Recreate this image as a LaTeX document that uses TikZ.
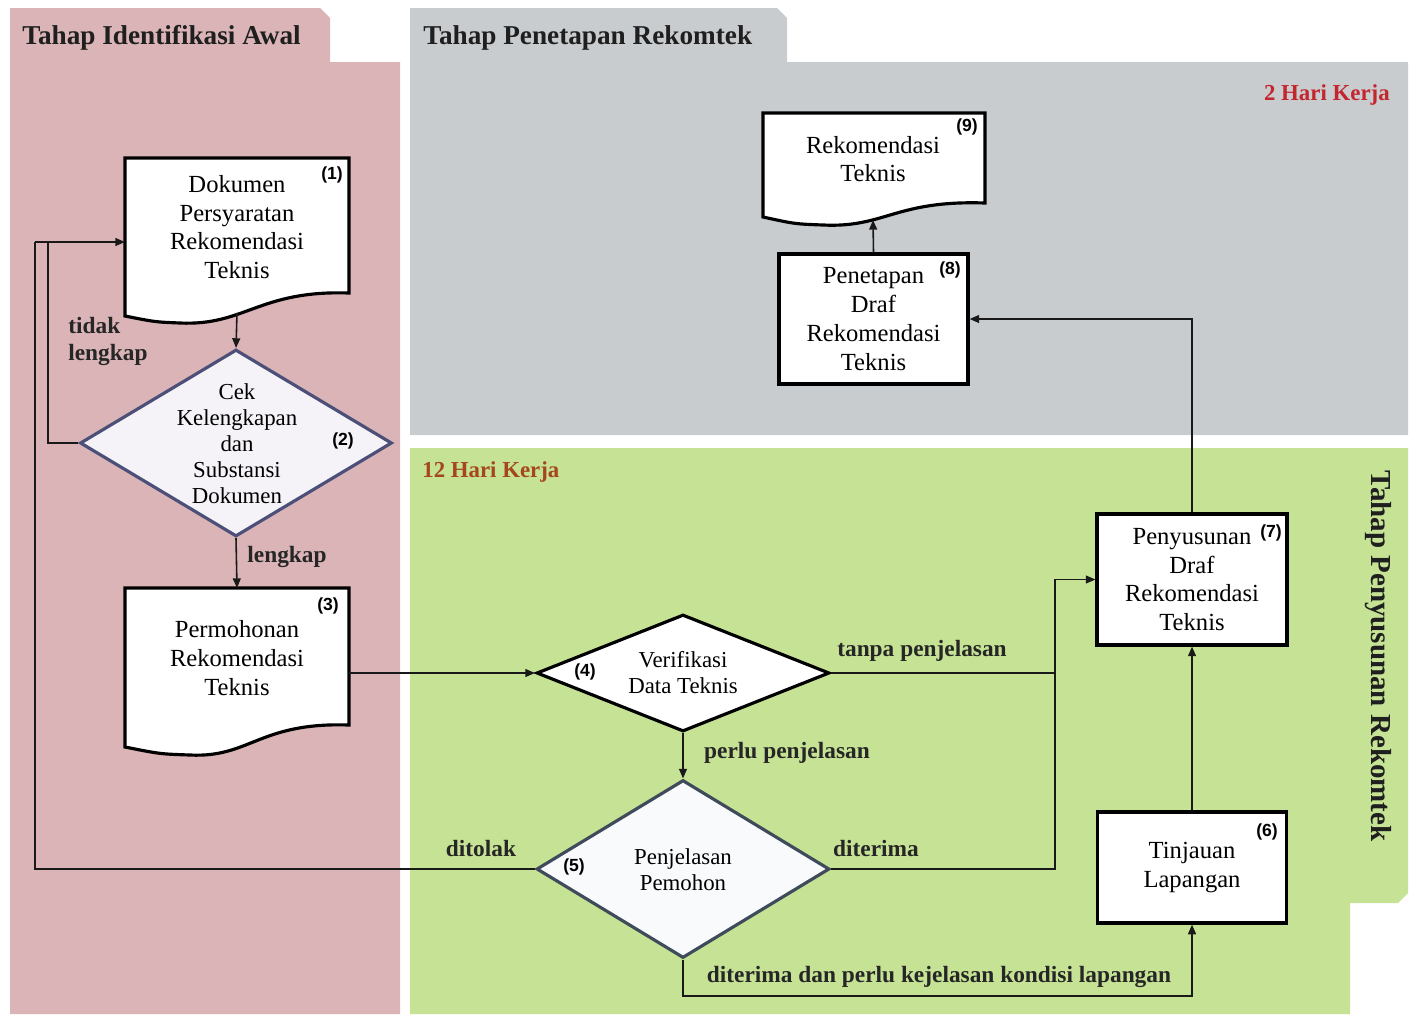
\documentclass[tikz,border=0pt]{standalone}
\usepackage{fontspec}
\setmainfont{Liberation Serif}
\newfontfamily\numfont{Liberation Sans}
\usetikzlibrary{shapes.geometric,arrows.meta,calc}
\definecolor{pinkbg}{HTML}{DAB4B7}
\definecolor{graybg}{HTML}{C9CCCF}
\definecolor{greenbg}{HTML}{C6E395}
\definecolor{dtwofill}{HTML}{F5F3F8}
\definecolor{dtwoline}{HTML}{4C5079}
\definecolor{dfivefill}{HTML}{F8FAFC}
\definecolor{dfiveline}{HTML}{3F4B5B}
\definecolor{redtxt}{HTML}{C4262E}
\definecolor{browntxt}{HTML}{A5461C}
\tikzset{
  ttl/.style={font=\fontsize{15.5}{18}\selectfont\bfseries, text=black!88, inner sep=0},
  lbl/.style={font=\fontsize{13.3}{15}\selectfont\bfseries, text=black!85, inner sep=0},
  ntext/.style={font=\fontsize{14}{16.4}\selectfont, align=center, inner sep=0},
  dtext/.style={font=\fontsize{13}{14.8}\selectfont, align=center, inner sep=0},
  num/.style={font=\numfont\bfseries\fontsize{10}{12}\selectfont, inner sep=0},
  boxn/.style={draw=black, line width=1.8pt, fill=white, inner sep=0, align=center,
               font=\fontsize{14}{16.4}\selectfont},
  docline/.style={draw=black, line width=1.8pt, fill=white},
  diam/.style={shape=diamond, inner sep=0, line width=1.8pt},
  conn/.style={line width=0.9pt, draw=black!90},
  arr/.style={conn, -{Triangle[length=5.5pt,width=4.5pt]}},
}
\begin{document}
\begin{tikzpicture}[x=0.02cm,y=-0.02cm]
\useasboundingbox (0,0) rectangle (1415,1014);
% panels
\fill[pinkbg] (10,1014) -- (10,8) -- (320,8) -- (330,18) -- (330,62) -- (400,62) -- (400,1014) -- cycle;
\fill[graybg] (410,435) -- (410,8) -- (777,8) -- (787,18) -- (787,62) -- (1408,62) -- (1408,435) -- cycle;
\fill[greenbg] (410,1014) -- (410,448) -- (1408,448) -- (1408,893) -- (1398,903) -- (1350,903) -- (1350,1014) -- cycle;
% titles
\node[ttl, anchor=west] (t1) at (22,38) {Tahap Identifikasi Awal};
\node[ttl, anchor=west] (t2) at (423,38) {Tahap Penetapan Rekomtek};
\node[ttl, rotate=-90, font=\fontsize{16.5}{18}\selectfont\bfseries] (t3) at (1378,656) {Tahap Penyusunan Rekomtek};
\node[lbl, anchor=east, text=redtxt, font=\fontsize{13}{15}\selectfont\bfseries] (h2) at (1390,95) {2 Hari Kerja};
\node[lbl, anchor=west, text=browntxt, font=\fontsize{13}{15}\selectfont\bfseries] (h12) at (422,472) {12 Hari Kerja};

% document 1
\draw[docline] (125,158) -- (349,158) -- (349,293) .. controls (259,290) and (245,326) .. (180,323) .. controls (155,322) .. (125,316) -- cycle;
\coordinate (d1b) at (237,313);
\coordinate (d1l) at (125,242);
\node[ntext] (n1) at (237,227) {Dokumen\\Persyaratan\\Rekomendasi\\Teknis};
\node[num] (k1) at (332,175) {(1)};

% document 3
\draw[docline] (125,588) -- (349,588) -- (349,725) .. controls (259,722) and (250,758) .. (190,755) .. controls (160,754) .. (125,747) -- cycle;
\coordinate (d3t) at (237,588);
\coordinate (d3r) at (349,673);
\node[ntext] (n3) at (237,658) {Permohonan\\Rekomendasi\\Teknis};
\node[num] (k3) at (328,606) {(3)};

% document 9
\draw[docline] (763,113) -- (985,113) -- (985,203) .. controls (895,200) and (885,228) .. (823,225) .. controls (795,224) .. (763,217) -- cycle;
\coordinate (d9b) at (873,220);
\node[ntext] (n9) at (873,159) {Rekomendasi\\Teknis};
\node[num] (k9) at (967,127) {(9)};

% diamond 2
\node[diam, draw=dtwoline, fill=dtwofill, minimum width=6.24cm, minimum height=3.74cm] (c2) at (236,443) {};
\node[dtext] (n2) at (237,444) {Cek\\Kelengkapan\\dan\\Substansi\\Dokumen};
\node[num] (k2) at (343,441) {(2)};

% diamond 4
\node[diam, draw=black, fill=white, minimum width=5.86cm, minimum height=2.34cm] (c4) at (683,673) {};
\node[dtext] (n4) at (683,673) {Verifikasi\\Data Teknis};
\node[num] (k4) at (585,672) {(4)};

% diamond 5
\node[diam, draw=dfiveline, fill=dfivefill, minimum width=5.86cm, minimum height=3.56cm] (c5) at (683,869) {};
\node[dtext] (n5) at (683,870) {Penjelasan\\Pemohon};
\node[num] (k5) at (574,867) {(5)};

% boxes
\node[boxn, minimum width=3.78cm, minimum height=2.6cm] (b8) at (873.5,319) {Penetapan\\Draf\\Rekomendasi\\Teknis};
\node[num] (k8) at (950,270) {(8)};
\node[boxn, minimum width=3.8cm, minimum height=2.62cm] (b7) at (1192,579.5) {Penyusunan\\Draf\\Rekomendasi\\Teknis};
\node[num] (k7) at (1271,533) {(7)};
\node[boxn, minimum width=3.78cm, minimum height=2.22cm] (b6) at (1192,867.5) {Tinjauan\\Lapangan};
\node[num] (k6) at (1267,832) {(6)};

% connector helpers
\coordinate (jA) at (48,242);
\coordinate (jB) at (35,242);
\coordinate (kx) at (1055,0);
\coordinate (bot) at (0,996);

% connectors
\draw[arr] (d1b) -- (c2.north);
\draw[arr] (c2.south) -- (d3t);
\draw[conn] (c2.west) -| (jA);
\draw[conn] (c5.west) -| (jB);
\draw[arr] (jB) -- (d1l);
\draw[arr] (d3r) -- (c4.west);
\draw[arr] (c4.east) -| (kx |- b7.west) -- (b7.west);
\draw[conn] (c5.east) -| (kx |- c4.east);
\draw[arr] (c4.south) -- (c5.north);
\draw[arr] (c5.south) -- (c5.south |- bot) -| (b6.south);
\draw[arr] (b6.north) -- (b7.south);
\draw[arr] (b7.north) |- (b8.east);
\draw[arr] (b8.north) -- (d9b);

% edge labels
\node[lbl, anchor=west] (l1) at (68,326) {tidak};
\node[lbl, anchor=west] (l2) at (68,355) {lengkap};
\node[lbl] (l3) at (287,557) {lengkap};
\node[lbl] (l4) at (481,848) {ditolak};
\node[lbl] (l5) at (922,651) {tanpa penjelasan};
\node[lbl] (l6) at (787,753) {perlu penjelasan};
\node[lbl] (l7) at (876,848) {diterima};
\node[lbl] (l8) at (939,977) {diterima dan perlu kejelasan kondisi lapangan};
\end{tikzpicture}
\end{document}
